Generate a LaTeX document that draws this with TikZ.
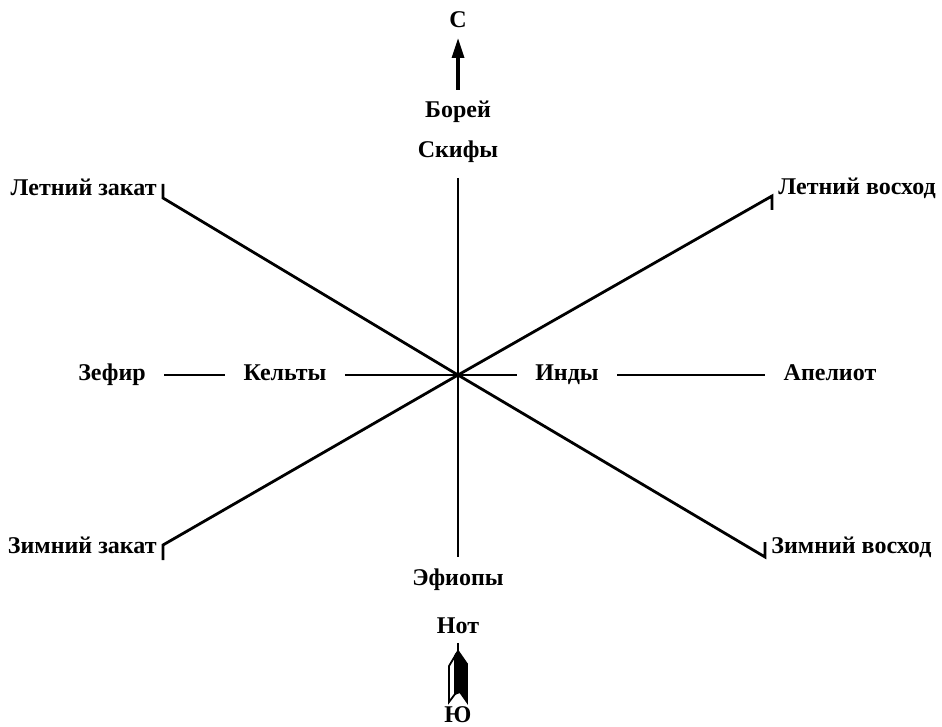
\documentclass[tikz,border=0pt]{standalone}
\usepackage{fontspec}
\setmainfont{Liberation Serif}
\usetikzlibrary{arrows.meta}
\usetikzlibrary{positioning}

\begin{document}
\begin{tikzpicture}[x=0.5pt, y=-0.5pt]

\tikzstyle{place}=[font=\bfseries\fontsize{12}{14}\selectfont, inner sep=3pt,
  text height=1.5ex, text depth=0.35ex]
\tikzstyle{wind}=[place, inner xsep=9pt]
\tikzstyle{axis}=[line width=1.4pt]
\tikzstyle{tick}=[line width=1.2pt]
\tikzstyle{arrnorth}=[-{Triangle[length=10pt, width=6pt]}, line width=1.6pt]

\useasboundingbox (0,0) rectangle (942,727);

\coordinate (O) at (458,375);

% north -- south
\node[place] (north) at (458,22) {С};
\node[place] (boreas) at (458,112) {Борей};
\node[place] (scyth) at (458,152) {Скифы};
\coordinate (atail) at (458,90);
\coordinate (ahead) at (458,38);
\draw[arrnorth] (atail) -- (ahead);
\coordinate (ntop) at (458,178);
\coordinate (sbot) at (458,557);
\draw[axis] (ntop) -- (sbot);
\node[place] (ethiop) at (458,580) {Эфиопы};
\node[place] (notus) at (458,628) {Нот};
\node[place] (south) at (458,717) {Ю};

% fletching under Нот
\coordinate (ftop) at (458,651);
\draw[tick] (notus.south) -- (ftop);
\draw[line width=0.9pt, fill=white] (449,666) -- (455,656) -- (455,694) -- (449,702) -- cycle;
\draw[line width=0.9pt, fill=black] (455,656) -- (ftop) -- (467,664) -- (467,702) -- (460,692) -- (455,694) -- cycle;

% west -- east
\node[wind] (zephyr) at (112,375) {Зефир};
\node[wind] (celts) at (285,375) {Кельты};
\node[wind] (indi) at (567,375) {Инды};
\node[wind] (apel) at (830,375) {Апелиот};
\draw[axis] (zephyr) -- (celts);
\draw[axis] (celts) -- (O);
\draw[axis] (O) -- (indi);
\draw[axis] (indi) -- (apel);

% solstice lines
\coordinate (sw) at (163,198);
\coordinate (swt) at (163,184);
\coordinate (ne) at (772,196);
\coordinate (net) at (772,210);
\coordinate (ws) at (163,545);
\coordinate (wst) at (163,560);
\coordinate (wr) at (765,557);
\coordinate (wrt) at (765,542);
\draw[axis] (swt) -- (sw) -- (O) -- (wr) -- (wrt);
\draw[axis] (wst) -- (ws) -- (O) -- (ne) -- (net);

\coordinate (swl) at (163,190);
\coordinate (nel) at (772,189);
\coordinate (wsl) at (163,548);
\coordinate (wrl) at (765,548);
\node[place, left=0pt of swl] (sumset) {Летний закат};
\node[place, right=0pt of nel] (sumrise) {Летний восход};
\node[place, left=0pt of wsl] (winset) {Зимний закат};
\node[place, right=0pt of wrl] (winrise) {Зимний восход};

\end{tikzpicture}
\end{document}
